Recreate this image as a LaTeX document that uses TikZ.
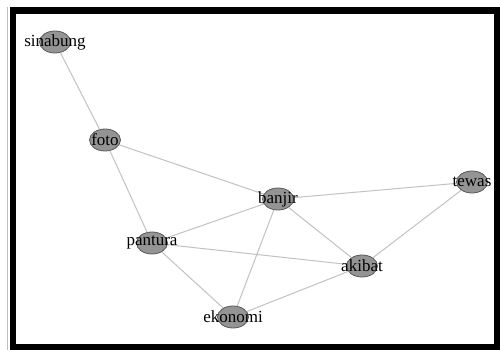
\documentclass[tikz,border=0pt]{standalone}
\usepackage{fontspec}
\setmainfont{Liberation Serif}
\usetikzlibrary{shapes.geometric}
\begin{document}
\begin{tikzpicture}[x=1pt,y=-1pt,
  vertex/.style={ellipse,draw=black!65,line width=0.8pt,fill=black!42,
    minimum width=31pt,minimum height=22pt,inner sep=0pt},
  word/.style={font=\fontsize{17}{17}\selectfont,text=black},
  link/.style={draw=black!24,line width=1pt}]
  \useasboundingbox (0,0) rectangle (500,350);
  \fill[white] (0,0) rectangle (500,350);
  % window frame
  \draw[black!25,line width=1pt] (7.5,7) -- (7.5,350);
  \draw[black,line width=6.5pt] (13,350) -- (13,10.5) -- (497,10.5) -- (497,347) -- (13,347);

  % vertices
  \node[vertex] (sinabung) at (55,42) {};
  \node[vertex] (foto) at (105,140) {};
  \node[vertex] (pantura) at (152,243) {};
  \node[vertex] (ekonomi) at (233,317) {};
  \node[vertex] (banjir) at (278,199) {};
  \node[vertex] (tewas) at (472,182) {};
  \node[vertex] (akibat) at (362,266) {};

  % edges
  \draw[link] (sinabung) -- (foto);
  \draw[link] (foto) -- (pantura);
  \draw[link] (foto) -- (banjir);
  \draw[link] (banjir) -- (tewas);
  \draw[link] (banjir) -- (pantura);
  \draw[link] (banjir) -- (ekonomi);
  \draw[link] (banjir) -- (akibat);
  \draw[link] (pantura) -- (akibat);
  \draw[link] (pantura) -- (ekonomi);
  \draw[link] (ekonomi) -- (akibat);
  \draw[link] (akibat) -- (tewas);

  % labels
  \node[word] (lsinabung) at (sinabung) {sinabung};
  \node[word] (lfoto) at (foto) {foto};
  \node[word] (lpantura) at (pantura) {pantura};
  \node[word] (lekonomi) at (ekonomi) {ekonomi};
  \node[word] (lbanjir) at (banjir) {banjir};
  \node[word] (ltewas) at (tewas) {tewas};
  \node[word] (lakibat) at (akibat) {akibat};
\end{tikzpicture}
\end{document}
